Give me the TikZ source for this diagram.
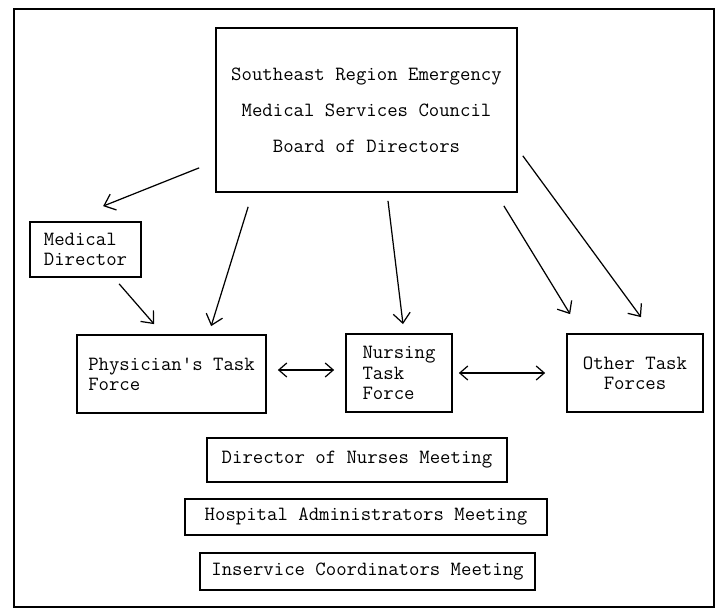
\documentclass[tikz,border=0pt]{standalone}
\usepackage{tikz}
\usetikzlibrary{arrows.meta, positioning, calc}

\begin{document}
\begin{tikzpicture}[x=0.02cm, y=-0.02cm,
    box/.style={rectangle, draw, line width=1pt, inner sep=0pt,
      font=\ttfamily\fontsize{11.5}{11.5}\selectfont},
    arrow/.style={line width=0.7pt, -{Straight Barb[length=2mm, width=3.4mm]}},
    twoway/.style={line width=0.7pt, {Straight Barb[length=1.6mm, width=2.8mm]}-{Straight Barb[length=1.6mm, width=2.8mm]}}
]
\useasboundingbox (0,0) rectangle (718,614);
\draw[line width=0.9pt] (14,9) rectangle (714,607);

\node[box, minimum width=6.02cm, minimum height=3.28cm, align=center,
      font=\ttfamily\fontsize{11.5}{20.5}\selectfont] (board) at (366.5,110)
      {Southeast Region Emergency\\Medical Services Council\\Board of Directors};
\node[box, minimum width=2.22cm, minimum height=1.1cm, align=left]  (medic)  at (85.5,249.5) {Medical\\Director};
\node[box, minimum width=3.78cm, minimum height=1.56cm, align=left] (phys)   at (171.5,374) {Physician's Task\\Force};
\node[box, minimum width=2.12cm, minimum height=1.56cm, align=left] (nurse)  at (399,373) {Nursing\\Task\\Force};
\node[box, minimum width=2.72cm, minimum height=1.56cm, align=center] (other) at (635,373) {Other Task\\Forces};
\node[box, minimum width=6.0cm, minimum height=0.88cm]  (nurses)  at (357,460)   {Director of Nurses Meeting};
\node[box, minimum width=7.24cm, minimum height=0.72cm] (admins)  at (366,517)   {Hospital Administrators Meeting};
\node[box, minimum width=6.7cm, minimum height=0.74cm]  (inserv)  at (367.5,571.5) {Inservice Coordinators Meeting};

\draw[arrow] ([shift={(-16,-25)}]board.south west) -- ([shift={(74,-15)}]medic.north west);
\draw[arrow] ([shift={(90,6)}]medic.south west)    -- ([shift={(78,-10)}]phys.north west);
\draw[arrow] ([shift={(33,14)}]board.south west)   -- ([shift={(135,-8)}]phys.north west);
\draw[arrow] ([shift={(21.5,8)}]board.south)       -- ([shift={(4,-9)}]nurse.north);
\draw[arrow] ([shift={(-14,13)}]board.south east)  -- ([shift={(4,-19)}]other.north west);
\draw[arrow] ([shift={(5,-37)}]board.south east)   -- ([shift={(6,-16)}]other.north);
\draw[twoway] ([shift={(11,-4)}]phys.east) -- ([shift={(-11,-3)}]nurse.west);
\draw[twoway] ([shift={(6,0)}]nurse.east)  -- ([shift={(-21,0)}]other.west);
\end{tikzpicture}
\end{document}
